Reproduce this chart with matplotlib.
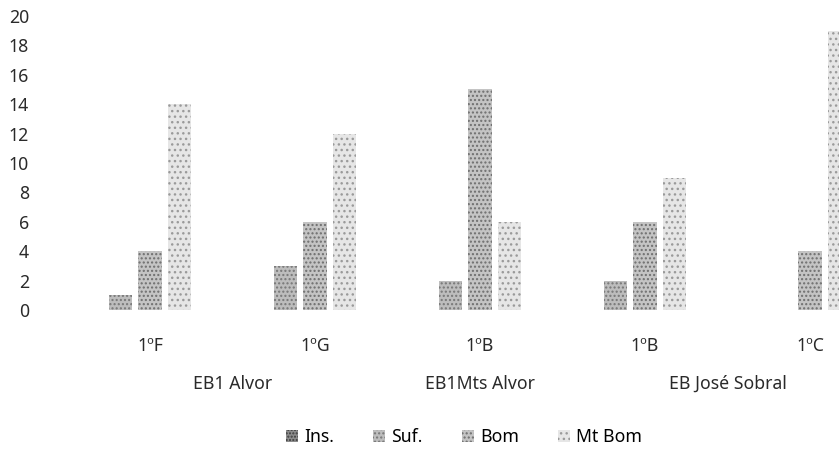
import matplotlib.pyplot as plt
import numpy as np

plt.rcParams['font.family'] = ['Noto Sans', 'DejaVu Sans']

# Turmas e escolas
classes = ['1ºF', '1ºG', '1ºB', '1ºB', '1ºC']
schools = ['EB1 Alvor', 'EB1Mts Alvor', 'EB José Sobral']
school_span = [(0, 1), (2, 2), (3, 4)]

# Número de alunos por nível
ins = [0, 0, 0, 0, 0]
suf = [1, 3, 2, 2, 0]
bom = [4, 6, 15, 6, 4]
mt_bom = [14, 12, 6, 9, 19]

series = ['Ins.', 'Suf.', 'Bom', 'Mt Bom']
values = [ins, suf, bom, mt_bom]

# ---- Estilo das barras (tons de cinza pontilhados) ----
faces = ['#8c8c8c', '#bdbdbd', '#c4c4c4', '#e6e6e6']
dots = ['#3c3c3c', '#777777', '#6e6e6e', '#9a9a9a']
hatches = ['.....', '....', '....', '...']
offsets = [-0.18, -0.18, 0.0, 0.18]
width = 0.14
txt = '#2a2a2a'
fs = 12.7

fig = plt.figure(figsize=(8.39, 4.5), dpi=100, facecolor='white')
ax = fig.add_axes([40 / 839, (450 - 310) / 450, 1 - 40 / 839, (310 - 16) / 450])

x = np.arange(len(classes))
handles = []
for name, vals, fc, hc, h, off in zip(series, values, faces, dots, hatches, offsets):
    bars = ax.bar(x + off, vals, width, color=fc, edgecolor=hc, hatch=h,
                  linewidth=0, label=name)
    handles.append(bars)

ax.set_ylim(0, 20)
ax.set_xlim(-(150 - 40) / 165, (839 - 150) / 165)
ax.set_yticks(np.arange(0, 21, 2))
ax.set_yticklabels([str(v) for v in range(0, 21, 2)], fontsize=fs, color=txt)
ax.set_xticks([])
ax.tick_params(axis='y', length=0, pad=8)
for s in ax.spines.values():
    s.set_visible(False)

# ---- Eixo de categorias em dois níveis ----
trans = ax.get_xaxis_transform()
for i, c in enumerate(classes):
    ax.text(i, -36 / 294, c, transform=trans, ha='center', va='center',
            fontsize=fs, color=txt)
for name, (a, b) in zip(schools, school_span):
    ax.text((a + b) / 2, -74 / 294, name, transform=trans, ha='center',
            va='center', fontsize=fs, color=txt)

fig.legend(handles=handles, labels=series, loc='center',
           bbox_to_anchor=(464 / 839, 13 / 450), ncol=4, frameon=False,
           fontsize=fs, handlelength=0.7, handleheight=0.7,
           handletextpad=0.35, columnspacing=2.2)

plt.savefig('out.png', dpi=100, facecolor='white')
